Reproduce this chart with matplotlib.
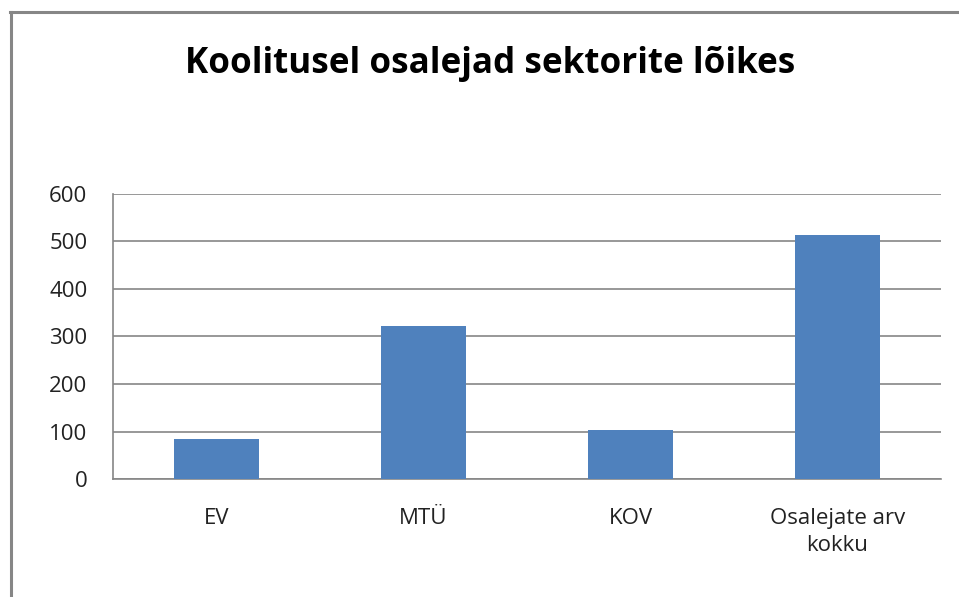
import matplotlib
matplotlib.use("Agg")
import matplotlib.pyplot as plt
from matplotlib.lines import Line2D

categories = ["EV", "MTÜ", "KOV", "Osalejate arv\nkokku"]
values = [84, 322, 103, 513]
yticks = [0, 100, 200, 300, 400, 500, 600]
title = "Koolitusel osalejad sektorite lõikes"

W, H = 959, 597
fig = plt.figure(figsize=(W / 100, H / 100), dpi=100)
fig.patch.set_facecolor("white")

ax = fig.add_axes([113 / W, (H - 479) / H, (941 - 113) / W, (479 - 194) / H])
ax.bar(range(len(categories)), values, width=0.41, color="#4F81BD", zorder=3)
ax.set_xlim(-0.5, len(categories) - 0.5)
ax.set_ylim(0, 600)
ax.set_yticks(yticks)
ax.set_xticks(range(len(categories)))
ax.set_xticklabels(categories, fontsize=16, family=["Open Sans", "DejaVu Sans"], color="#222222", linespacing=1.35)
ax.set_yticklabels([str(v) for v in yticks], fontsize=16, family=["Open Sans", "DejaVu Sans"], color="#222222")
ax.tick_params(axis="both", length=0)
ax.tick_params(axis="y", pad=18.5)
ax.tick_params(axis="x", pad=21)
ax.grid(axis="y", color="#868686", linewidth=1.2, zorder=0)
for s in ["top", "right"]:
    ax.spines[s].set_visible(False)
for s in ["left", "bottom"]:
    ax.spines[s].set_color("#868686")
    ax.spines[s].set_linewidth(1.2)

fig.text(490 / W, 1 - 64 / H, title, ha="center", va="center", fontsize=25.2,
         fontweight="bold", family=["Open Sans", "DejaVu Sans"], color="black")

# outer frame (top and left edges visible)
fig.add_artist(Line2D([10.5 / W, 10.5 / W], [0, 1 - 11.5 / H], transform=fig.transFigure, color="#868686", linewidth=2.2))
fig.add_artist(Line2D([9.5 / W, 1], [1 - 11.5 / H, 1 - 11.5 / H], transform=fig.transFigure, color="#868686", linewidth=2.2))

fig.savefig("out.png", dpi=100)
